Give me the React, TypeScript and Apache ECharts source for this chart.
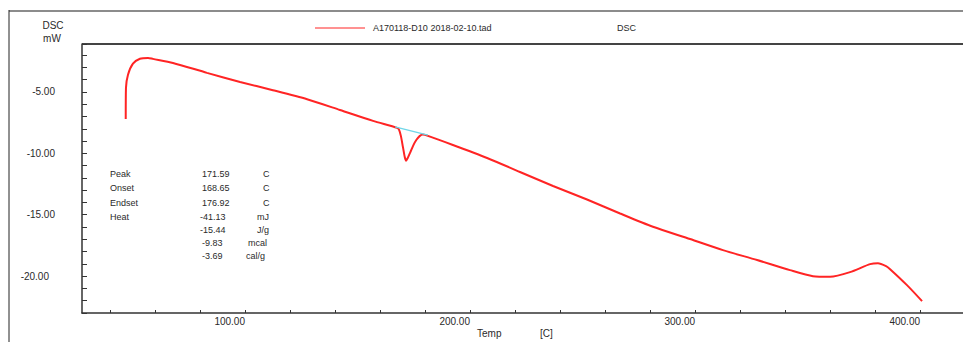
import React, { useEffect, useRef } from "react";
import * as echarts from "echarts";

// DSC trace: temperature [C] and heat flow [mW]
const temperature = [
  47.0, 47.1, 48.0, 50.2, 53.3, 56.9, 59.1, 68.0, 83.1, 97.8, 112.4, 127.6, 142.2, 156.9,
  167.6, 168.4, 169.3, 170.2, 171.0, 171.59, 172.4, 173.5, 174.8, 176.2, 177.6, 179.0, 180.0,
  192.4, 207.6, 222.2, 236.9, 252.0, 266.7, 281.3, 297.8, 312.4, 327.6, 342.2, 352.4, 360.0,
  368.9, 377.8, 381.3, 384.9, 386.7, 394.2, 400.9,
];
const heatFlow = [
  -7.2, -4.67, -3.6, -2.7, -2.3, -2.23, -2.31, -2.64, -3.45, -4.19, -4.86, -5.6, -6.47, -7.36,
  -7.93, -8.05, -8.6, -9.5, -10.3, -10.6, -10.35, -9.9, -9.35, -8.9, -8.6, -8.47, -8.5,
  -9.32, -10.38, -11.52, -12.66, -13.76, -14.9, -15.98, -16.98, -17.88, -18.69, -19.51, -20.0, -20.05,
  -19.67, -19.02, -18.94, -19.18, -19.43, -20.73, -22.03,
];

// Integration baseline under the melting peak
const baselineTemp = [166.7, 181.3];
const baselineFlow = [-7.85, -8.52];

// Axis ticks and labels
const xMinorTicks = [40, 60, 80, 100, 120, 140, 160, 180, 200, 220, 240, 260, 280, 300, 320, 340, 360, 380, 400];
const xLabels = [100, 200, 300, 400];
const yLabels = [-5, -10, -15, -20];

// Peak analysis results
const resultNames = ["Peak", "Onset", "Endset", "Heat", "", "", ""];
const resultValues = ["171.59", "168.65", "176.92", "-41.13", "-15.44", "-9.83", "-3.69"];
const resultUnits = ["C", "C", "C", "mJ", "J/g", "mcal", "cal/g"];

const FONT = "'Liberation Sans', Arial, sans-serif";
const TEXT = "#2a2a2a";
const RED = "#ff2424";

export default function App() {
  const ref = useRef<HTMLDivElement>(null);

  useEffect(() => {
    if (!ref.current) return;
    const chart = echarts.init(ref.current, null, { renderer: "svg" });

    const rowY = [174, 188, 203, 217, 230, 243, 256];
    const valueX = [202, 202, 202, 200, 200, 202, 202];
    const unitX = [263, 263, 263, 257, 257, 248, 246];

    const tableTexts: any[] = [];
    rowY.forEach((y, i) => {
      if (resultNames[i]) {
        tableTexts.push({
          type: "text", x: 110, y,
          style: { text: resultNames[i], fill: TEXT, font: `9px ${FONT}`, verticalAlign: "middle" },
        });
      }
      tableTexts.push({
        type: "text", x: valueX[i], y,
        style: { text: resultValues[i], fill: TEXT, font: `9px ${FONT}`, verticalAlign: "middle" },
      });
      tableTexts.push({
        type: "text", x: unitX[i], y,
        style: { text: resultUnits[i], fill: TEXT, font: `9px ${FONT}`, verticalAlign: "middle" },
      });
    });

    chart.setOption({
      animation: false,
      grid: { left: 82, top: 44, right: 0, bottom: 29, containLabel: false },
      xAxis: [
        {
          type: "value",
          min: 27.56,
          max: 419.1,
          axisLine: { show: true, lineStyle: { color: "#333", width: 1.5 } },
          axisTick: { show: true, inside: true, length: 3, customValues: xMinorTicks, lineStyle: { color: "#333" } },
          axisLabel: {
            show: true,
            customValues: xLabels,
            formatter: (v: number) => v.toFixed(2),
            align: "right",
            margin: 3,
            color: TEXT,
            fontSize: 10,
            fontFamily: FONT,
          },
          splitLine: { show: false },
        },
      ],
      yAxis: {
        type: "value",
        min: -23,
        max: -1.1,
        interval: 1,
        axisLine: { show: true, lineStyle: { color: "#333", width: 1.5 } },
        axisTick: { show: true, inside: true, length: 5, lineStyle: { color: "#333" } },
        axisLabel: {
          show: true,
          showMinLabel: true,
          margin: 27,
          formatter: (v: number) => {
            if (!yLabels.includes(v)) return "";
            return v === -20 ? `{b|${v.toFixed(2)}}` : `{a|${v.toFixed(2)}}`;
          },
          rich: {
            a: { color: TEXT, fontSize: 10, fontFamily: FONT },
            b: { color: TEXT, fontSize: 10, fontFamily: FONT, padding: [0, 6, 0, 0] },
          },
        },
        splitLine: { show: false },
      },
      series: [
        {
          type: "line",
          data: temperature.map((t, i) => [t, heatFlow[i]]),
          showSymbol: false,
          smooth: 0.25,
          lineStyle: { color: RED, width: 2 },
          z: 3,
        },
        {
          type: "line",
          data: baselineTemp.map((t, i) => [t, baselineFlow[i]]),
          showSymbol: false,
          lineStyle: { color: "#6fd6e8", width: 1.2 },
          z: 4,
        },
      ],
      graphic: [
        { type: "line", shape: { x1: 9, y1: 11, x2: 963, y2: 11 }, style: { stroke: "#8c8c8c", lineWidth: 2 } },
        { type: "line", shape: { x1: 9, y1: 10, x2: 9, y2: 342 }, style: { stroke: "#222", lineWidth: 1 } },
        { type: "line", shape: { x1: 82, y1: 44, x2: 963, y2: 44 }, style: { stroke: "#444", lineWidth: 2 } },
        { type: "text", x: 53, y: 25, style: { text: "DSC", fill: TEXT, font: `10px ${FONT}`, align: "center", verticalAlign: "middle" } },
        { type: "text", x: 52, y: 38, style: { text: "mW", fill: TEXT, font: `10px ${FONT}`, align: "center", verticalAlign: "middle" } },
        { type: "line", shape: { x1: 315, y1: 28, x2: 365, y2: 28 }, style: { stroke: RED, lineWidth: 1 } },
        { type: "text", x: 373, y: 28, style: { text: "A170118-D10 2018-02-10.tad", fill: TEXT, font: `9px ${FONT}`, verticalAlign: "middle" } },
        { type: "text", x: 617, y: 28, style: { text: "DSC", fill: TEXT, font: `9px ${FONT}`, verticalAlign: "middle" } },
        { type: "text", x: 477, y: 333, style: { text: "Temp", fill: TEXT, font: `10px ${FONT}`, verticalAlign: "middle" } },
        { type: "text", x: 540, y: 333, style: { text: "[C]", fill: TEXT, font: `10px ${FONT}`, verticalAlign: "middle" } },
        ...tableTexts,
      ],
    });

    return () => chart.dispose();
  }, []);

  return <div ref={ref} style={{ position: "absolute", left: 0, top: 0, width: 963, height: 342 }} />;
}
